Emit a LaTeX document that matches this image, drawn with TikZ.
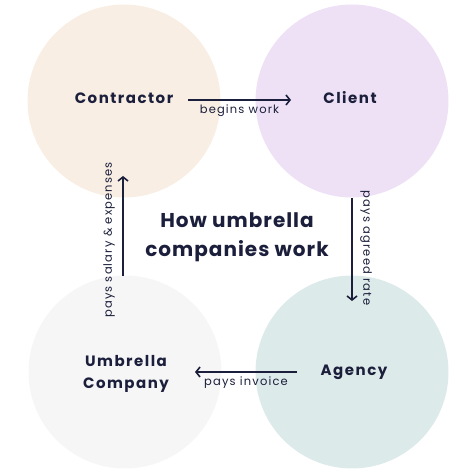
\documentclass[tikz,border=0pt]{standalone}
\usepackage{fontspec}
\setmainfont{Poppins}
\newfontfamily\namefont[LetterSpace=10]{Poppins}
\newfontfamily\titlefont[LetterSpace=5]{Poppins}
\usetikzlibrary{arrows.meta}
\definecolor{ink}{HTML}{1B1F3B}
\definecolor{peach}{HTML}{F8EEE4}
\definecolor{lilac}{HTML}{EEE1F6}
\definecolor{mist}{HTML}{F6F6F6}
\definecolor{sea}{HTML}{DDEAEA}
\begin{document}
\begin{tikzpicture}[x=1pt, y=1pt,
    blob/.style={circle, minimum size=193pt, inner sep=0pt},
    who/.style={text=ink, font=\namefont\bfseries\fontsize{15}{22}\selectfont, align=center},
    note/.style={text=ink, font=\namefont\fontsize{11.5}{13}\selectfont},
    flow/.style={draw=ink, line width=1.6pt, -{Straight Barb[length=4pt, width=10pt]}}]
    \useasboundingbox (0, 0) rectangle (474, 474);
    % circles
    \node[blob, fill=peach] at(124, 373) (cc) {};
    \node[blob, fill=lilac] at(352, 373) (kc) {};
    \node[blob, fill=mist] at(125, 102) (uc) {};
    \node[blob, fill=sea] at(352, 102) (ac) {};
    % names
    \node[who] at(124, 376) (contractor) {Contractor};
    \node[who] at(350, 376) (client) {Client};
    \node[who] at(126, 100) (umbrella) {Umbrella\\Company};
    \node[who] at(354, 102) (agency) {Agency};
    \node[who, font=\titlefont\bfseries\fontsize{20}{29}\selectfont] at(237, 237) (title) {How umbrella\\companies work};
    % arrow ends
    \coordinate (w0) at(188, 374);
    \coordinate (w1) at(291, 374);
    \coordinate (r0) at(352, 276);
    \coordinate (r1) at(352, 173);
    \coordinate (i0) at(297, 102);
    \coordinate (i1) at(195, 102);
    \coordinate (s0) at(123, 198);
    \coordinate (s1) at(123, 298);
    \draw[flow] (w0) -- (w1) node[note, midway, below=1pt] (begins) {begins work};
    \draw[flow] (r0) -- (r1);
    \draw[flow] (i0) -- (i1) node[note, midway, below=1pt] (invoice) {pays invoice};
    \draw[flow] (s0) -- (s1);
    \node[note, rotate=-90] at(366, 226) (agreed) {pays agreed rate};
    \node[note, rotate=90] at(109, 234) (salary) {pays salary \& expenses};
\end{tikzpicture}
\end{document}
